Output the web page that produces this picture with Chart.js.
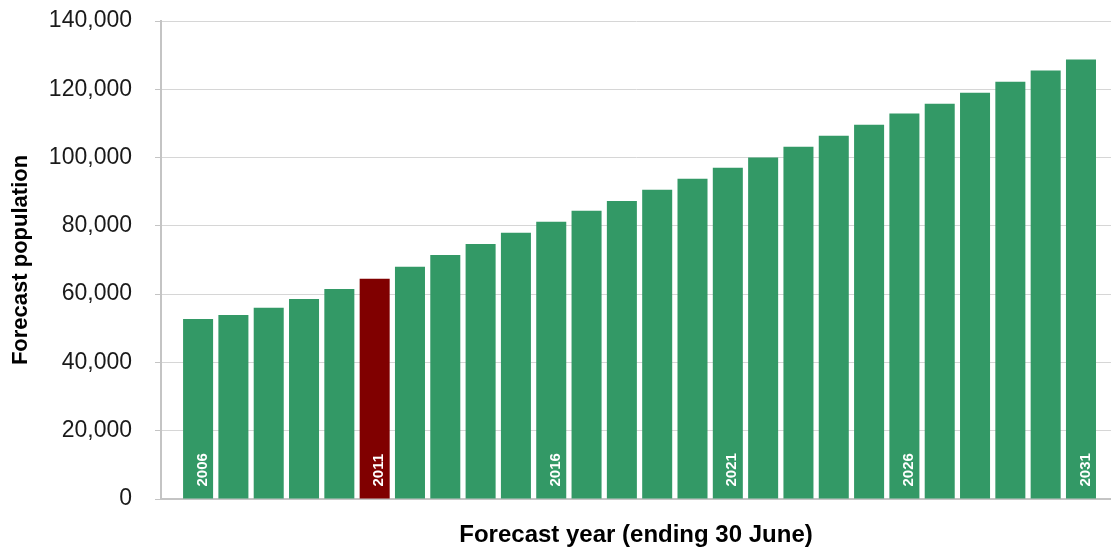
<!DOCTYPE html>
<html>
<head>
<meta charset="utf-8">
<script src="https://cdn.jsdelivr.net/npm/chart.js@4/dist/chart.umd.min.js"></script>
<style>
  html, body { margin: 0; padding: 0; background: #fff; overflow: hidden; }
  #wrap { width: 1111px; height: 547px; position: relative; }
</style>
</head>
<body>
<div id="wrap"><canvas id="popChart"></canvas></div>
<script>
// Forecast years and population per year (ending 30 June)
const years = [2006, 2007, 2008, 2009, 2010, 2011, 2012, 2013, 2014, 2015, 2016, 2017, 2018,
               2019, 2020, 2021, 2022, 2023, 2024, 2025, 2026, 2027, 2028, 2029, 2030, 2031];
const population = [52750, 53900, 56000, 58600, 61500, 64500, 68000, 71500, 74700, 78000, 81200, 84400, 87300,
                    90600, 93800, 97000, 100000, 103200, 106400, 109600, 112900, 115800, 119000, 122200, 125500, 128700];
// Years printed inside their bars
const labelYears = [2006, 2011, 2016, 2021, 2026, 2031];
// Base year shown in a different colour
const baseYear = 2011;
const yTicks = [0, 20000, 40000, 60000, 80000, 100000, 120000, 140000];

const GREEN = '#339966';
const RED = '#800000';
const FONT = "'Liberation Sans', Arial, sans-serif";

// Year labels drawn vertically at the foot of selected bars
const barYearLabels = {
  id: 'barYearLabels',
  afterDatasetsDraw(chart) {
    const { ctx } = chart;
    const meta = chart.getDatasetMeta(0);
    ctx.save();
    ctx.fillStyle = '#ffffff';
    ctx.font = 'bold 15px ' + FONT;
    ctx.textAlign = 'left';
    ctx.textBaseline = 'middle';
    years.forEach((yr, i) => {
      if (!labelYears.includes(yr)) return;
      const bar = meta.data[i];
      ctx.save();
      ctx.translate(bar.x + 4.5, bar.base - 12);
      ctx.rotate(-Math.PI / 2);
      ctx.fillText(String(yr), 0, 0);
      ctx.restore();
    });
    ctx.restore();
  }
};

new Chart(document.getElementById('popChart'), {
  type: 'bar',
  data: {
    datasets: [{
      data: years.map((yr, i) => ({ x: yr, y: population[i] })),
      backgroundColor: years.map(yr => yr === baseYear ? RED : GREEN),
      borderWidth: 0,
      barPercentage: 0.85,
      categoryPercentage: 1.0
    }]
  },
  options: {
    responsive: true,
    maintainAspectRatio: false,
    animation: false,
    layout: { padding: { top: 21, right: 0, bottom: 0, left: 0 } },
    plugins: {
      legend: { display: false },
      tooltip: { enabled: false }
    },
    scales: {
      x: {
        type: 'linear',
        offset: false,
        min: 2004.95,
        max: 2031.85,
        ticks: { display: false },
        grid: { display: false, offset: false },
        border: { display: true, color: '#c4c4c4', width: 2 },
        title: {
          display: true,
          text: 'Forecast year (ending 30 June)',
          color: '#000',
          font: { family: FONT, size: 24, weight: 'bold', lineHeight: 1 },
          padding: { top: 0, bottom: 0 }
        },
        afterFit(scale) { scale.height = 48; }
      },
      y: {
        min: 0,
        max: 140000,
        afterBuildTicks(scale) { scale.ticks = yTicks.map(v => ({ value: v })); },
        ticks: {
          color: '#1a1a1a',
          padding: 23,
          font: { family: FONT, size: 23 },
          callback: (v) => v.toLocaleString('en-US')
        },
        grid: { color: '#d6d6d6', lineWidth: 1, tickLength: 6, tickColor: '#c4c4c4' },
        border: { display: true, color: '#c4c4c4', width: 2 },
        title: {
          display: true,
          text: 'Forecast population',
          color: '#000',
          font: { family: FONT, size: 22, weight: 'bold' },
          padding: { top: 8, bottom: 0 }
        },
        afterFit(scale) {
          scale.width = 161;
          scale.paddingTop = 0;
          scale.paddingBottom = 0;
        }
      }
    }
  },
  plugins: [barYearLabels]
});
</script>
</body>
</html>
